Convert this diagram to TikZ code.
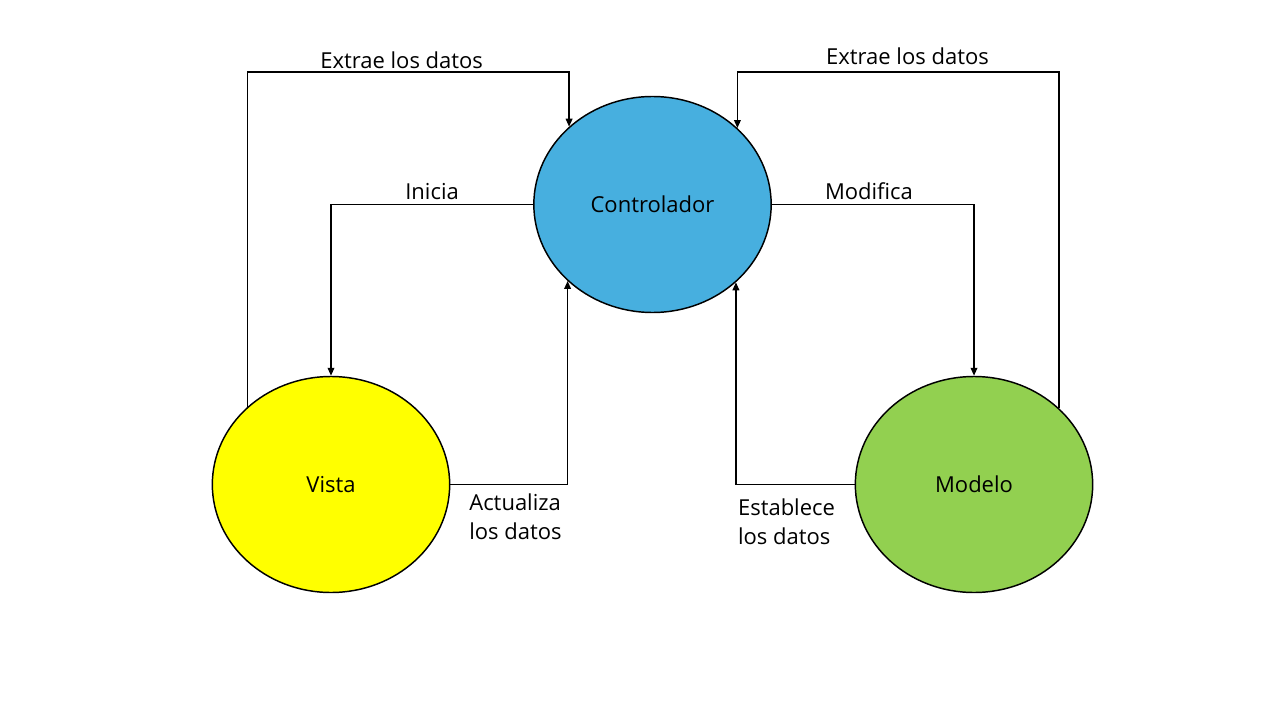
\documentclass[tikz,border=0pt]{standalone}
\usepackage{fontspec}
\setmainfont{Open Sans}
\usepackage{tikz}
\usetikzlibrary{shapes.geometric, arrows.meta, positioning}
\definecolor{ctrlblue}{HTML}{47AFDF}
\definecolor{vistayellow}{HTML}{FFFF00}
\definecolor{modgreen}{HTML}{92D050}
\tikzset{
  estado/.style={ellipse, draw=black, line width=1.1pt,
                 minimum width=178pt, minimum height=162pt,
                 font=\fontsize{16.5}{20}\selectfont},
  flecha/.style={line width=1.15pt, line join=miter, -{Triangle[length=6pt, width=5pt]}},
  rotulo/.style={font=\fontsize{16.5}{21.75}\selectfont, align=left}
}
\begin{document}
\begin{tikzpicture}[x=0.75pt, y=-0.75pt]
\useasboundingbox (0,0) rectangle (1280,720);

% los tres estados
\node[estado, fill=ctrlblue] (ctrl) at (652.5,204.5) {Controlador};
\node[estado, fill=vistayellow] (vista) at (331,484.5) {Vista};
\node[estado, fill=modgreen] (modelo) at (974,484.5) {Modelo};

% altura de los rieles superiores
\coordinate (riel) at (0,72);

\draw[flecha] (vista.137.7) |- node[pos=0.75, above, rotulo, inner sep=2pt, xshift=-5pt] {Extrae los datos} (ctrl.137.2 |- riel) -- (ctrl.137.2);
\draw[flecha] (modelo.42.3) |- node[pos=0.75, above, rotulo, inner sep=2pt, yshift=3pt, xshift=7pt] {Extrae los datos} (ctrl.42.8 |- riel) -- (ctrl.42.8);

\draw[flecha] (ctrl.west) -| node[pos=0.25, above, rotulo] {Inicia} (vista.north);
\draw[flecha] (ctrl.east) -| node[pos=0.25, above, rotulo, xshift=-3pt] {Modifica} (modelo.north);

\draw[flecha] (vista.east) -| (ctrl.222.8);
\draw[flecha] (modelo.west) -| node[pos=0.5, anchor=north west, rotulo, inner sep=1pt, yshift=-9pt] {Establece\\los datos} (ctrl.317.2);

\node[rotulo, anchor=north west, inner sep=1pt, below right=6pt and 13pt of vista.east] (actualiza) {Actualiza\\los datos};
\end{tikzpicture}
\end{document}
